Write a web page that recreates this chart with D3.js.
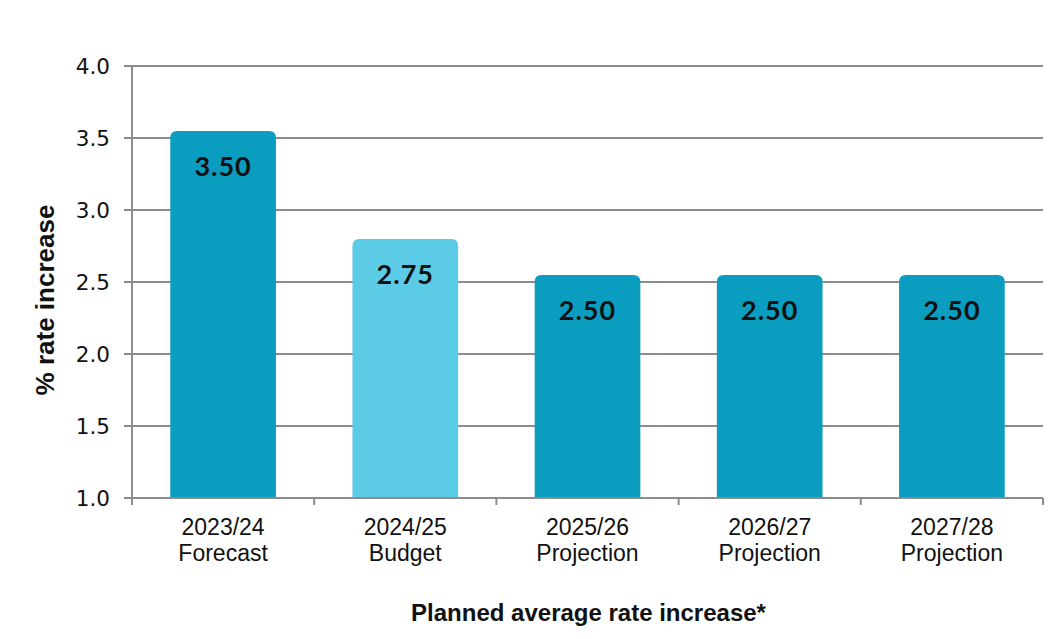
<!DOCTYPE html>
<html>
<head>
<meta charset="utf-8">
<script src="https://cdn.jsdelivr.net/npm/d3@7.9.0/dist/d3.min.js"></script>
<style>
  body { margin: 0; background: #fff; }
  svg { display: block; }
</style>
</head>
<body>
<svg width="1061" height="639"></svg>
<script>
const years = ["2023/24", "2024/25", "2025/26", "2026/27", "2027/28"];
const kinds = ["Forecast", "Budget", "Projection", "Projection", "Projection"];
const rates = [3.5, 2.75, 2.5, 2.5, 2.5];
const yTicks = [1.0, 1.5, 2.0, 2.5, 3.0, 3.5, 4.0];

const svg = d3.select("svg");
const pLeft = 132, pRight = 1043, pTop = 66, pBottom = 498;

const x = d3.scaleBand().domain(years).range([pLeft, pRight]).paddingInner(0.42).paddingOuter(0.21);
const y = d3.scaleLinear().domain([1, 4]).range([pBottom, pTop]);

// gridlines
svg.append("g")
  .selectAll("line")
  .data(yTicks.slice(1))
  .join("line")
  .attr("x1", pLeft - 8).attr("x2", pRight)
  .attr("y1", d => y(d)).attr("y2", d => y(d))
  .attr("stroke", "#8c8c8c").attr("stroke-width", 2);

// bars, rounded top corners
const r = 7;
svg.append("g")
  .selectAll("path")
  .data(rates)
  .join("path")
  .attr("fill", (d, i) => (i === 1 ? "#5ccbe6" : "#0b9dc0"))
  .attr("d", (d, i) => {
    const x0 = x(years[i]), w = x.bandwidth();
    const t = y(d) - 7, b = pBottom;
    return `M${x0},${b} V${t + r} Q${x0},${t} ${x0 + r},${t} H${x0 + w - r} Q${x0 + w},${t} ${x0 + w},${t + r} V${b} Z`;
  });

// value labels
svg.append("g")
  .selectAll("text")
  .data(rates)
  .join("text")
  .attr("x", (d, i) => x(years[i]) + x.bandwidth() / 2)
  .attr("y", d => y(d) + 38)
  .attr("text-anchor", "middle")
  .attr("font-family", "Lato, 'DejaVu Sans', sans-serif")
  .attr("font-weight", "bold")
  .attr("font-size", 27)
  .attr("letter-spacing", 1)
  .attr("fill", "#111")
  .text(d => d.toFixed(2));

// y axis
svg.append("line")
  .attr("x1", pLeft).attr("x2", pLeft)
  .attr("y1", pTop).attr("y2", pBottom)
  .attr("stroke", "#8c8c8c").attr("stroke-width", 2);
svg.append("line")
  .attr("x1", pLeft - 8).attr("x2", pLeft)
  .attr("y1", pBottom).attr("y2", pBottom)
  .attr("stroke", "#8c8c8c").attr("stroke-width", 2);

svg.append("g")
  .selectAll("text")
  .data(yTicks)
  .join("text")
  .attr("x", pLeft - 22)
  .attr("y", d => y(d) + 8)
  .attr("text-anchor", "end")
  .attr("font-family", "'DejaVu Sans', sans-serif")
  .attr("font-size", 21.5)
  .attr("fill", "#111")
  .text(d => d.toFixed(1));

// x axis
svg.append("line")
  .attr("x1", pLeft).attr("x2", pRight)
  .attr("y1", pBottom).attr("y2", pBottom)
  .attr("stroke", "#8c8c8c").attr("stroke-width", 2);

const bounds = d3.range(years.length + 1).map(i => pLeft + i * (pRight - pLeft) / years.length);
svg.append("g")
  .selectAll("line")
  .data(bounds)
  .join("line")
  .attr("x1", d => d).attr("x2", d => d)
  .attr("y1", pBottom).attr("y2", pBottom + 7)
  .attr("stroke", "#8c8c8c").attr("stroke-width", 2);

const xl = svg.append("g")
  .selectAll("text")
  .data(years)
  .join("text")
  .attr("text-anchor", "middle")
  .attr("font-family", "'Liberation Sans', Arial, sans-serif")
  .attr("font-size", 23)
  .attr("fill", "#111");
xl.append("tspan").attr("x", d => x(d) + x.bandwidth() / 2).attr("y", 535).text(d => d);
xl.append("tspan").attr("x", d => x(d) + x.bandwidth() / 2).attr("y", 561).text((d, i) => kinds[i]);

// axis titles
svg.append("text")
  .attr("x", (pLeft + pRight) / 2 + 1)
  .attr("y", 621)
  .attr("text-anchor", "middle")
  .attr("font-family", "'Liberation Sans', Arial, sans-serif")
  .attr("font-weight", "bold")
  .attr("font-size", 24)
  .attr("fill", "#111")
  .text("Planned average rate increase*");

svg.append("text")
  .attr("transform", `translate(54, ${(pTop + pBottom) / 2 + 18}) rotate(-90)`)
  .attr("text-anchor", "middle")
  .attr("font-family", "'Liberation Sans', Arial, sans-serif")
  .attr("font-weight", "bold")
  .attr("font-size", 26)
  .attr("fill", "#111")
  .text("% rate increase");
</script>
</body>
</html>
